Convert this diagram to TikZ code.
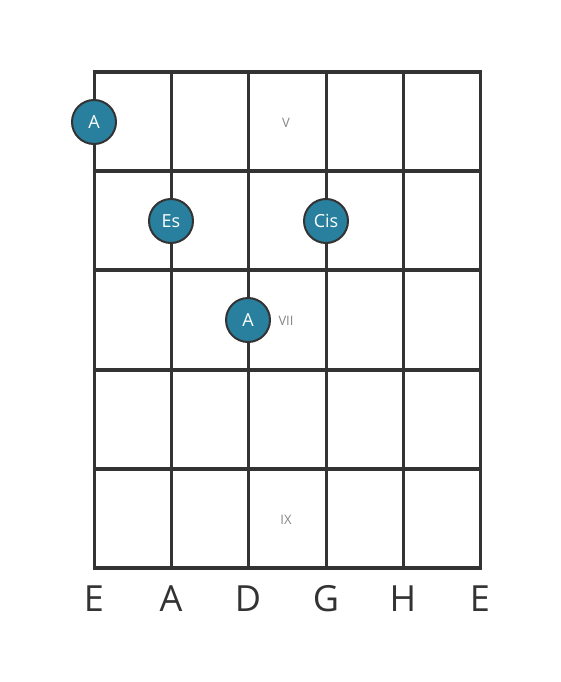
\documentclass[tikz,border=0pt]{standalone}
\usepackage{fontspec}
\setmainfont{Open Sans}
\usepackage{tikz}
\definecolor{fretline}{HTML}{333333}
\definecolor{notefill}{HTML}{297F9E}
\definecolor{fretlabel}{HTML}{858585}
\tikzset{
  note/.style={circle, draw=fretline, line width=2pt, fill=notefill, minimum size=44pt, inner sep=0pt, text=white, font=\fontsize{18}{18}\selectfont},
  fretnum/.style={text=fretlabel, font=\fontsize{13}{13}\selectfont},
  stringname/.style={text=fretline, font=\fontsize{36}{36}\selectfont}
}

\begin{document}
\begin{tikzpicture}[x=1pt, y=-1pt]
    \useasboundingbox (0,0) rectangle (560,682);

    % Strings
    \foreach \sx in {94,171,248,326,403,480}
      \draw[fretline, line width=3pt] (\sx,72) -- (\sx,568);

    % Frets
    \foreach \fy in {171,270,370,469}
      \draw[fretline, line width=3.5pt] (92.5,\fy) -- (481.5,\fy);
    \draw[fretline, line width=4.5pt] (92.5,72) -- (481.5,72);
    \draw[fretline, line width=4.5pt] (92.5,568) -- (481.5,568);

    % Fret numbers
    \node[fretnum] (fretV) at (286,123) {V};
    \node[fretnum] (fretVII) at (286,321) {VII};
    \node[fretnum] (fretIX) at (286,520) {IX};

    % Notes
    \node[note] (noteA1) at (94,122) {A};
    \node[note] (noteEs) at (171,221) {Es};
    \node[note] (noteCis) at (326,221) {Cis};
    \node[note] (noteA2) at (248,320) {A};

    % String names
    \node[stringname] (strE1) at (94,599) {E};
    \node[stringname] (strA) at (171,599) {A};
    \node[stringname] (strD) at (248,599) {D};
    \node[stringname] (strG) at (326,599) {G};
    \node[stringname] (strH) at (403,599) {H};
    \node[stringname] (strE2) at (480,599) {E};

\end{tikzpicture}
\end{document}
